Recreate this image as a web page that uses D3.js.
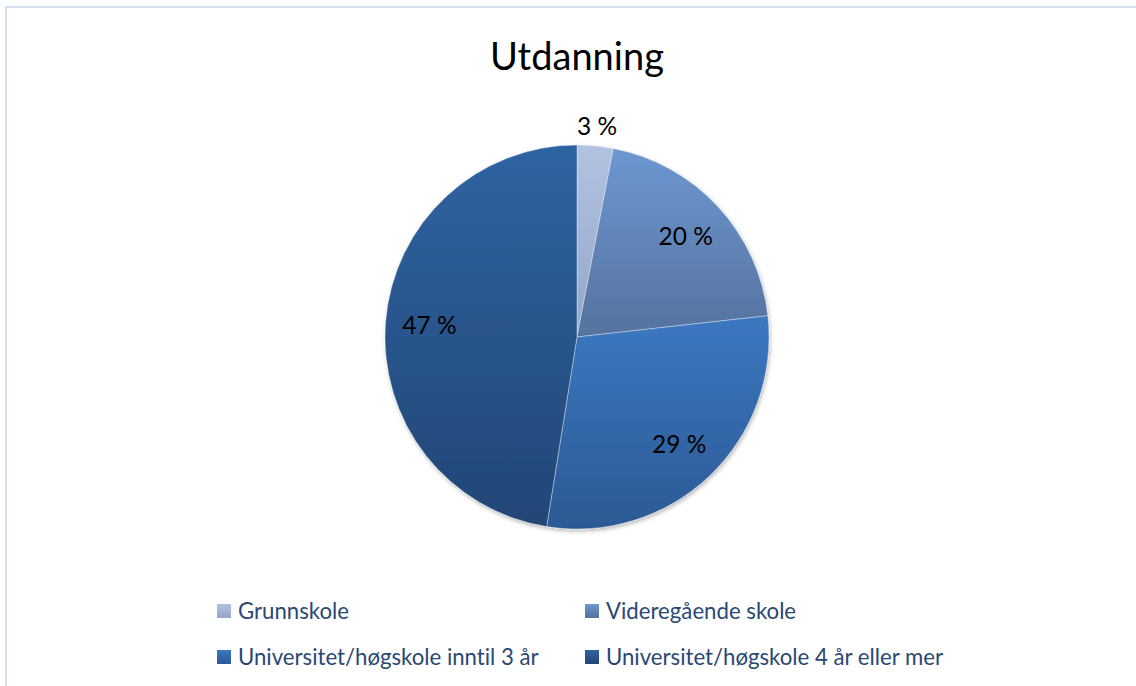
<!DOCTYPE html>
<html>
<head>
<meta charset="utf-8">
<script src="https://cdn.jsdelivr.net/npm/d3@7"></script>
<style>
  html, body { margin: 0; padding: 0; background: #fff; }
  svg { display: block; font-family: Lato, "Open Sans", sans-serif; font-variant-ligatures: none; }
</style>
</head>
<body>
<svg id="chart" width="1136" height="686"></svg>
<script>
// data
var categories = ["Grunnskole", "Videregående skole", "Universitet/høgskole inntil 3 år", "Universitet/høgskole 4 år eller mer"];
var shares = [3, 20, 29, 47];
var shareLabels = ["3 %", "20 %", "29 %", "47 %"];
var topColors = ["#b2c3e1", "#6d97d1", "#3b78c1", "#2f63a2"];
var bottomColors = ["#93a6c7", "#55729e", "#2c5994", "#224676"];

var width = 1136, height = 686;
var cx = 577, cy = 337, radius = 192;

var svg = d3.select("#chart");
var defs = svg.append("defs");

// outer frame (only top and left edges are visible)
svg.append("rect")
  .attr("x", 6).attr("y", 7)
  .attr("width", 1200).attr("height", 800)
  .attr("fill", "none")
  .attr("stroke", "#d6e2f1")
  .attr("stroke-width", 2);

svg.append("text")
  .attr("x", cx).attr("y", 70)
  .attr("text-anchor", "middle")
  .attr("font-size", 38)
  .attr("fill", "#000")
  .text("Utdanning");

// vertical gradients, one per slice
categories.forEach(function (c, i) {
  var g = defs.append("linearGradient")
    .attr("id", "grad" + i)
    .attr("x1", 0).attr("y1", 0).attr("x2", 0).attr("y2", 1);
  g.append("stop").attr("offset", "0%").attr("stop-color", topColors[i]);
  g.append("stop").attr("offset", "100%").attr("stop-color", bottomColors[i]);
});

var shadow = defs.append("filter").attr("id", "shadow")
  .attr("x", "-10%").attr("y", "-10%").attr("width", "120%").attr("height", "120%");
shadow.append("feGaussianBlur").attr("in", "SourceAlpha").attr("stdDeviation", 2).attr("result", "blur");
shadow.append("feOffset").attr("in", "blur").attr("dx", 1).attr("dy", 2).attr("result", "off");
shadow.append("feComponentTransfer").attr("in", "off").attr("result", "soft")
  .append("feFuncA").attr("type", "linear").attr("slope", 0.3);
var merge = shadow.append("feMerge");
merge.append("feMergeNode").attr("in", "soft");
merge.append("feMergeNode").attr("in", "SourceGraphic");

var pie = d3.pie().sort(null).value(function (d) { return d; });
var arcs = pie(shares);
var arc = d3.arc().innerRadius(0).outerRadius(radius);

var pieG = svg.append("g").attr("transform", "translate(" + cx + "," + cy + ")");

pieG.append("g").attr("filter", "url(#shadow)")
  .selectAll("path")
  .data(arcs)
  .enter().append("path")
  .attr("d", arc)
  .attr("fill", function (d, i) { return "url(#grad" + i + ")"; })
  .attr("stroke", "rgba(255,255,255,0.45)")
  .attr("stroke-width", 0.8);

var total = d3.sum(shares);
var inArc = d3.arc().innerRadius(148).outerRadius(148);
var outArc = d3.arc().innerRadius(212).outerRadius(212);

pieG.selectAll("text.lbl")
  .data(arcs)
  .enter().append("text")
  .attr("class", "lbl")
  .attr("transform", function (d) {
    var p = (d.value / total < 0.05 ? outArc : inArc).centroid(d);
    return "translate(" + p[0] + "," + p[1] + ")";
  })
  .attr("text-anchor", "middle")
  .attr("dy", "0.35em")
  .attr("font-size", 24.5)
  .attr("fill", "#000")
  .text(function (d, i) { return shareLabels[i]; });

// legend, 2 columns x 2 rows
var legX = [217, 585], legY = [611, 657];
var leg = svg.append("g").selectAll("g")
  .data(categories)
  .enter().append("g")
  .attr("transform", function (d, i) {
    return "translate(" + legX[i % 2] + "," + legY[Math.floor(i / 2)] + ")";
  });

leg.append("rect")
  .attr("x", 0).attr("y", -7)
  .attr("width", 14).attr("height", 14)
  .attr("fill", function (d, i) { return "url(#grad" + i + ")"; });

leg.append("text")
  .attr("x", 21).attr("y", 0)
  .attr("dy", "0.35em")
  .attr("font-size", 22.2)
  .attr("fill", "#2a4873")
  .text(function (d) { return d; });
</script>
</body>
</html>
